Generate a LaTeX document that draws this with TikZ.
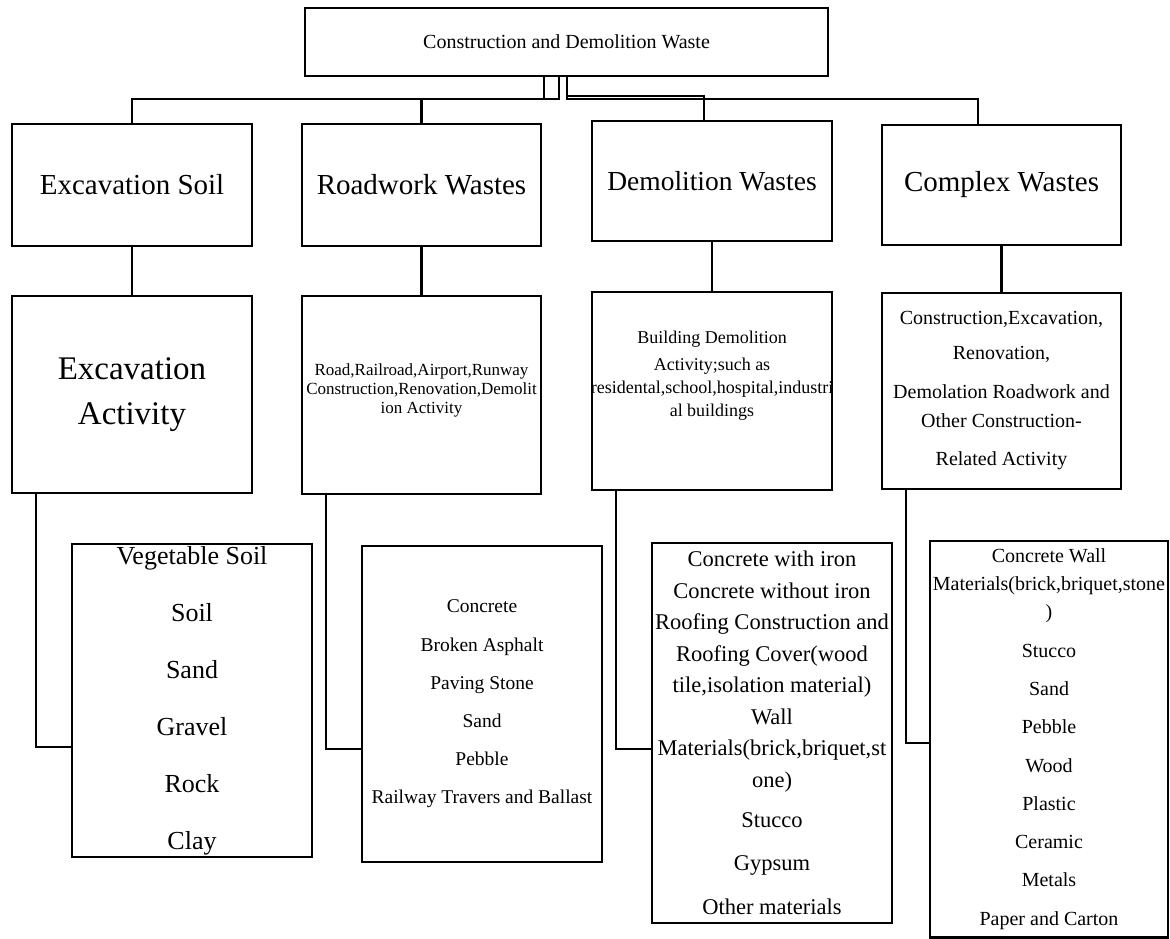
\documentclass[tikz,border=0pt]{standalone}
\usepackage{fontspec}
\setmainfont{Liberation Serif}
\newcommand\setfs[2]{\fontsize{#1pt}{#2pt}\selectfont}
\begin{document}
\begin{tikzpicture}[x=1pt,y=-1pt,line width=2.2pt,
  box/.style={draw=black,rectangle,inner sep=0pt,outer sep=0pt,align=center},
  link/.style={draw=black,line width=2.2pt}]
\useasboundingbox (0,0) rectangle (1170,939);

% title
\node[box,minimum width=523pt,minimum height=68pt,font=\setfs{20}{24}] (cdw) at (566.5,42) {Construction and Demolition Waste};

% level 1
\node[box,minimum width=240pt,minimum height=122pt,font=\setfs{29}{34}] (exs) at (132,185) {Excavation Soil};
\node[box,minimum width=239pt,minimum height=122pt,font=\setfs{29}{34}] (rds) at (421.5,185) {Roadwork Wastes};
\node[box,minimum width=240pt,minimum height=120pt,font=\setfs{27.5}{32}] (dem) at (712,181) {Demolition Wastes};
\node[box,minimum width=239pt,minimum height=120pt,font=\setfs{29}{34}] (cpx) at (1001.5,185) {Complex Wastes};

% level 2
\node[box,minimum width=240pt,minimum height=197pt,font=\setfs{33}{45}] (exa) at (132,394.5) {Excavation\\Activity};
\node[box,minimum width=239pt,minimum height=198pt,
  label={[name=rdat,font=\setfs{17}{19},align=center,yshift=5pt]center:Road,Railroad,Airport,Runway\\Construction,Renovation,Demolit\\ion Activity}] (rda) at (421.5,395) {};
\node[box,minimum width=240pt,minimum height=198pt,
  label={[name=bdat,font=\setfs{18}{23},align=center,yshift=15pt]center:Building Demolition\\[4pt]Activity;such as\\residental,school,hospital,industri\\al buildings}] (bda) at (712,391) {};
\node[box,minimum width=239pt,minimum height=196pt,font=\setfs{20}{37}] (cpa) at (1001.5,391) {Construction,Excavation,\\[-2pt]Renovation,\\[2pt]Demolation Roadwork and\\[-8pt]Other Construction-\\[1pt]Related Activity};

% level 3
\node[box,minimum width=240pt,minimum height=313pt,font=\setfs{26}{57}] (exl) at (192,700.5) {Vegetable Soil\\Soil\\Sand\\Gravel\\Rock\\Clay};
\node[box,minimum width=240pt,minimum height=316pt,font=\setfs{19.5}{38.2}] (rdl) at (482,704) {Concrete\\Broken Asphalt\\Paving Stone\\Sand\\Pebble\\Railway Travers and Ballast};
\node[box,minimum width=240pt,minimum height=380pt,font=\setfs{22.5}{31.5}] (dml) at (772,733) {Concrete with iron\\Concrete without iron\\Roofing Construction and\\Roofing Cover(wood\\tile,isolation material)\\Wall\\Materials(brick,briquet,st\\one)\\[8.5pt]Stucco\\[11.5pt]Gypsum\\[12.5pt]Other materials};
\node[box,minimum width=238pt,minimum height=396.5pt,font=\setfs{20}{38.3}] (cpl) at (1049,739.25) {Concrete Wall\\[-10.3pt]Materials(brick,briquet,stone\\[-10.3pt])\\Stucco\\Sand\\Pebble\\Wood\\Plastic\\Ceramic\\Metals\\Paper and Carton};

% title to level 1
\draw[link] ([xshift=-22.5pt]cdw.south) -- ++(0,23) -| (exs.north);
\draw[link] ([xshift=-7.5pt]cdw.south) -- ++(0,23) -| (rds.north);
\draw[link] ([xshift=0.5pt]cdw.south) -- ++(0,20) -| ([xshift=-8pt]dem.north);
\draw[link] ([xshift=0.5pt]cdw.south) -- ++(0,23) -| ([xshift=-23.5pt]cpx.north);

% level 1 to level 2
\draw[link] (exs.south) -- (exa.north);
\draw[link] (rds.south) -- (rda.north);
\draw[link] (dem.south) -- (bda.north);
\draw[link] (cpx.south) -- (cpa.north);

% level 2 to level 3
\draw[link] ([xshift=24pt]exa.south west) |- ([yshift=-46.5pt]exl.west);
\draw[link] ([xshift=24pt]rda.south west) |- ([yshift=-45pt]rdl.west);
\draw[link] ([xshift=24pt]bda.south west) |- ([yshift=-16pt]dml.west);
\draw[link] ([xshift=24pt]cpa.south west) |- ([yshift=-3.75pt]cpl.west);
\end{tikzpicture}
\end{document}
